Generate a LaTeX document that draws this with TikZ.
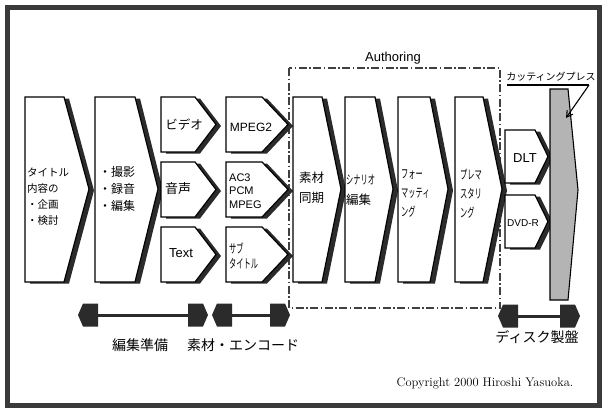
\documentclass[tikz,border=0pt]{standalone}
\usepackage{fontspec}
\usetikzlibrary{arrows.meta}
\newfontfamily\jp{Noto Sans CJK JP}
\newfontfamily\jpn[FakeStretch=0.58]{Noto Sans CJK JP}
\newfontfamily\lat{Liberation Sans}
\definecolor{shade}{HTML}{2B2B2B}
\definecolor{pressgray}{HTML}{B4B4B4}
\definecolor{framec}{HTML}{3A3A3A}
\tikzset{
  chevbox/.style={draw=black, fill=white, line width=1.2pt, line join=miter},
  chevshadow/.style={fill=shade},
  blob/.style={fill=shade},
  barline/.style={draw=shade, line width=3pt},
  jpt/.style 2 args={font={\jp\fontsize{#1}{#2}\selectfont}, align=left, inner sep=0pt},
  jpn/.style 2 args={font={\jpn\fontsize{#1}{#2}\selectfont}, align=left, inner sep=0pt},
  latt/.style 2 args={font={\lat\fontsize{#1}{#2}\selectfont}, align=left, inner sep=0pt},
}
\newcommand\chev[6]{%
  \fill[chevshadow,shift={(5,1.5)}] (#1,#2) -- (#4,#2) -- (#5,#6) -- (#4,#3) -- (#1,#3) -- cycle;
  \draw[chevbox] (#1,#2) -- (#4,#2) -- (#5,#6) -- (#4,#3) -- (#1,#3) -- cycle;
}
\newcommand\dblbar[3]{% left x, right x, y
  \fill[blob] (#1,#3) -- (#1+5,#3-11.5) -- (#1+20,#3-11.5) -- (#1+20,#3+11.5) -- (#1+5,#3+11.5) -- cycle;
  \fill[blob] (#2,#3) -- (#2-5,#3-11.5) -- (#2-20,#3-11.5) -- (#2-20,#3+11.5) -- (#2-5,#3+11.5) -- cycle;
  \draw[barline] (#1+19,#3) -- (#2-19,#3);
}
\begin{document}
\begin{tikzpicture}[x=1pt,y=-1pt]
\useasboundingbox (0,0) rectangle (602,408);
\fill[white] (0,0) rectangle (602,408);
\draw[line width=5pt, framec] (7,7.5) rectangle (599.5,405);

% authoring box
\draw[line width=1.1pt, black!75, dash pattern=on 8pt off 2.5pt on 1.5pt off 2.5pt] (289,68) rectangle (500,308);
\node[latt={13}{15}] (auth) at (393,58) {Authoring};

% big chevrons
\chev{25}{97}{282}{64}{89}{189}
\chev{95}{97}{282}{135}{158}{189}
% small column 1
\chev{161}{97}{152}{195}{216}{124.5}
\chev{161}{162}{217}{195}{216}{189.5}
\chev{161}{227}{282}{195}{216}{254.5}
% small column 2
\chev{226}{97}{152}{262}{288}{124.5}
\chev{226}{162}{217}{262}{288}{189.5}
\chev{226}{227}{282}{262}{288}{254.5}
% authoring chevrons
\chev{293}{97}{282}{322}{341}{189}
\chev{345}{97}{282}{375}{393}{189}
\chev{398}{97}{282}{430}{448}{189}
\chev{455}{97}{282}{483}{502}{189}
% DLT / DVD-R
\chev{505}{130}{183}{535}{548}{156.5}
\chev{505}{195}{248}{535}{548}{221.5}

% cutting press
\draw[fill=pressgray, draw=black, line width=1.1pt] (550,89) -- (568,89) -- (578,190) -- (568,300) -- (550,300) -- cycle;

% texts
\node[jpt={10.5}{16}, anchor=west] (t1) at (27,197) {タイトル\\内容の\\・企画\\・検討};
\node[jpt={12}{17}, anchor=west] (t2) at (99,189) {・撮影\\・録音\\・編集};
\node[jpt={12.5}{15}] (video) at (184,125) {ビデオ};
\node[jpt={13}{15}] (audio) at (178,189) {音声};
\node[latt={13}{15}] (text) at (181,253) {Text};
\node[latt={12}{14}] (mpeg2) at (251,127) {MPEG2};
\node[latt={11}{13.5}, anchor=west] (ac3) at (229,191) {AC3\\PCM\\MPEG};
\node[jpn={12.5}{15}, anchor=west] (sub) at (229,256) {サブ\\タイトル};
\node[jpt={12.5}{20}, anchor=west] (a1) at (299,188) {素材\\同期};
\node[anchor=west, align=left, inner sep=0pt, font={\fontsize{12.5}{20}\selectfont}] (a2) at (346,190) {{\jpn シナリオ}\\{\jp 編集}};
\node[jpn={12.5}{19}, anchor=west] (a3) at (401,194) {フォー\\マッティ\\ング};
\node[jpn={12.5}{19}, anchor=west] (a4) at (460,194) {プレマ\\スタリ\\ング};
\node[latt={13}{15}] (dlt) at (525,158) {DLT};
\node[latt={10}{12}] (dvd) at (523,223) {DVD-R};

% press label and pointer
\node[jpt={10}{12}] (presslbl) at (551,77) {カッティングプレス};
\coordinate (ulstart) at (507,85);
\coordinate (ulend) at (589,85);
\coordinate (presspt) at (566,118);
\draw[line width=1.5pt] (ulstart) -- (ulend);
\draw[line width=1.1pt, -{Straight Barb[length=6pt,width=7pt]}] (ulend) -- (presspt);

% bottom bars
\dblbar{78}{208}{315}
\dblbar{212}{290}{315}
\dblbar{498}{580}{316}
\node[jpt={14}{16}] (l1) at (140,345) {編集準備};
\node[jpt={14}{16}] (l2) at (243,345) {素材・エンコード};
\node[jpt={14}{16}] (l3) at (537,337) {ディスク製盤};

\node[font={\fontsize{12.5}{14}\selectfont}, inner sep=0pt] (copy) at (485,383) {Copyright 2000 Hiroshi Yasuoka.};
\end{tikzpicture}
\end{document}
